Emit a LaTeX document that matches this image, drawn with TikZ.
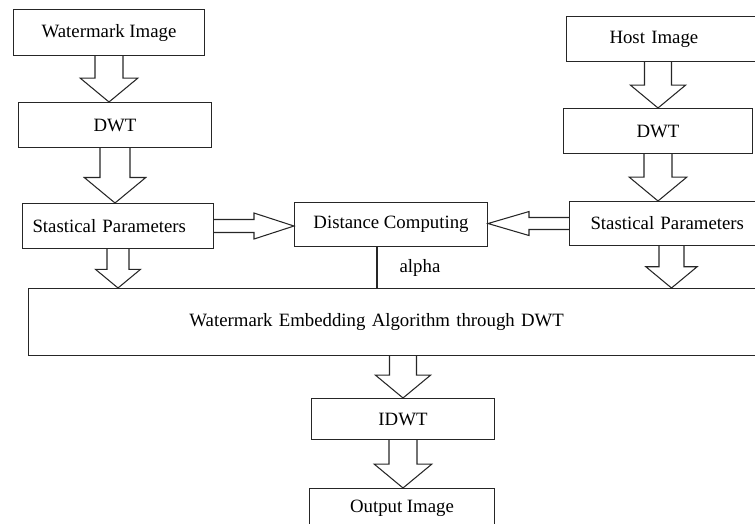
\documentclass[tikz,border=0pt]{standalone}
\usepackage{fontspec}
\setmainfont{Liberation Serif}
\usepackage{tikz}
\usetikzlibrary{calc}
\tikzstyle{boite} = [rectangle, draw=black!85, line width=0.6pt, minimum height=0.9cm, minimum width=3.8cm, text centered, inner sep=0pt]
\tikzstyle{grosse} = [draw=black!85, line width=0.6pt, line join=miter]
% grosse fleche vers le bas : depart, arrivee, demi-largeur du corps
\newcommand{\flechebas}[3]{%
  \draw[grosse] ($#1+(-#3,0)$) -- ($#2+(-#3,-1.7*#3)$) -- ($#2+(-2.05*#3,-1.7*#3)$) -- #2
    -- ($#2+(2.05*#3,-1.7*#3)$) -- ($#2+(#3,-1.7*#3)$) -- ($#1+(#3,0)$);}
% grosse fleche horizontale : depart, arrivee, demi-largeur, longueur de la pointe
\newcommand{\flechehoriz}[4]{%
  \draw[grosse] ($#1+(0,-#3)$) -- ($#2+({0-(#4)},-#3)$) -- ($#2+({0-(#4)},-2*#3)$) -- #2
    -- ($#2+({0-(#4)},2*#3)$) -- ($#2+({0-(#4)},#3)$) -- ($#1+(0,#3)$);}

\begin{document}
\begin{tikzpicture}[x=0.02cm, y=-0.02cm, every node/.style={font=\fontsize{10.7pt}{12pt}\selectfont}]

        \useasboundingbox (0,0) rectangle (755,524);
        \clip (0,0) rectangle (755,524);

        % colonne du filigrane
        \node (wmimg) [boite, anchor=north west, minimum width=3.82cm, minimum height=0.92cm] at (13,9) {Watermark Image};
        \node (dwtl) [boite, anchor=north west, minimum width=3.86cm] at (18,102) {DWT};
        \node (statl) [boite, anchor=north west, minimum width=3.82cm, text width=3.42cm, inner xsep=0.2cm, align=left] at (22,203) {Stastical Parameters};

        % colonne de l'image hote
        \node (host) [boite, anchor=north west, text width=3.08cm, inner xsep=0.86cm, align=left] at (566,16) {Host Image};
        \node (dwtr) [boite, anchor=north west, minimum width=3.78cm] at (563,108) {DWT};
        \node (statr) [boite, anchor=north west, minimum height=0.88cm, text width=3.96cm, inner xsep=0.42cm, align=left] at (569,201) {Stastical Parameters};

        \node (dist) [boite, anchor=north west, minimum width=3.86cm, minimum height=0.88cm] at (294,202) {Distance Computing};

        \node (embed) [boite, anchor=north west, minimum height=1.34cm, text width=9cm, inner xsep=3.22cm, align=left] at (28,288) {Watermark Embedding Algorithm through DWT};

        \node (idwt) [boite, anchor=north west, minimum width=3.66cm, minimum height=0.82cm] at (311,398) {IDWT};
        \node (output) [boite, anchor=north west, minimum width=3.7cm, minimum height=0.8cm] at (309,488) {Output Image};

        \node (alpha) at (420,268) {alpha};
        \draw[grosse] (dist.south -| 377,0) -- (embed.north -| 377,0);

        \flechebas{(wmimg.south)}{(wmimg.south |- dwtl.north)}{14}
        \flechebas{(dwtl.south)}{(dwtl.south |- statl.north)}{15}
        \flechebas{(dwtr.north |- host.south)}{(dwtr.north)}{13.5}
        \flechebas{(dwtr.south)}{(dwtr.south |- statr.north)}{14}
        \flechebas{(statl.south)}{(statl.south |- embed.north)}{11}
        \flechebas{($(statr.south west)+(102.5,0)$)}{($(statr.south west |- embed.north)+(102.5,0)$)}{12.5}
        \flechebas{(idwt.north |- embed.south)}{(idwt.north)}{13.5}
        \flechebas{(idwt.south)}{(idwt.south |- output.north)}{14}

        \flechehoriz{(statl.east)}{(statl.east -| dist.west)}{6.5}{40}
        \flechehoriz{(statr.west)}{(statr.west -| dist.east)}{6}{-41}

    \end{tikzpicture}
\end{document}
